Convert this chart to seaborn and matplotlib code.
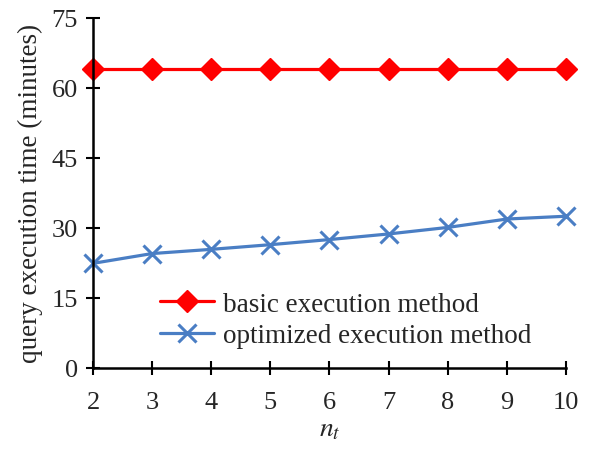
import matplotlib
matplotlib.use("Agg")
import matplotlib.pyplot as plt
import seaborn as sns
import pandas as pd

nt = [2, 3, 4, 5, 6, 7, 8, 9, 10]
basic = [64, 64, 64, 64, 64, 64, 64, 64, 64]
optimized = [22.4, 24.5, 25.4, 26.4, 27.5, 28.7, 30.1, 31.9, 32.5]
yticks = [0, 15, 30, 45, 60, 75]

sns.set_theme(style="white")
plt.rcParams['font.family'] = ['Liberation Serif', 'DejaVu Serif']
plt.rcParams['mathtext.fontset'] = 'stix'

fig = plt.figure(figsize=(6.04, 4.52), dpi=100)
ax = fig.add_axes([0.154, 0.184, 0.783, 0.774])

df_b = pd.DataFrame({"nt": nt, "val": basic})
df_o = pd.DataFrame({"nt": nt, "val": optimized})
sns.lineplot(data=df_b, x="nt", y="val", ax=ax, color="#FF0000", marker="D",
             markersize=11, markeredgecolor="#FF0000", markeredgewidth=1,
             linewidth=2.3, linestyle="-", label="basic execution method")
sns.lineplot(data=df_o, x="nt", y="val", ax=ax, color="#4A7EC4", marker="x",
             markersize=13, markeredgecolor="#4A7EC4", markeredgewidth=2.2,
             linewidth=2.3, linestyle="-", label="optimized execution method")

ax.set_xlim(2, 10)
ax.set_ylim(0, 75)
ax.set_xticks(nt)
ax.set_yticks(yticks)
ax.tick_params(direction="inout", length=10, width=1.5, labelsize=19, color="black",
               bottom=True, left=True)
ax.tick_params(axis="x", pad=12)
ax.tick_params(axis="y", pad=6)
for s in ["top", "right"]:
    ax.spines[s].set_visible(False)
for s in ["left", "bottom"]:
    ax.spines[s].set_color("black")
    ax.spines[s].set_linewidth(1.8)
ax.set_xlabel(r"$n_t$", fontsize=20, labelpad=2)
ax.set_ylabel("query execution time (minutes)", fontsize=19.5, labelpad=6)
leg = ax.legend(loc="center left", bbox_to_anchor=(0.142, 0.137), frameon=False,
                fontsize=19.5, handlelength=2.0, handletextpad=0.33,
                labelspacing=0.25, borderpad=0, borderaxespad=0)
for c in ax.lines:
    c.set_clip_on(False)

fig.savefig("out.png", dpi=100)
